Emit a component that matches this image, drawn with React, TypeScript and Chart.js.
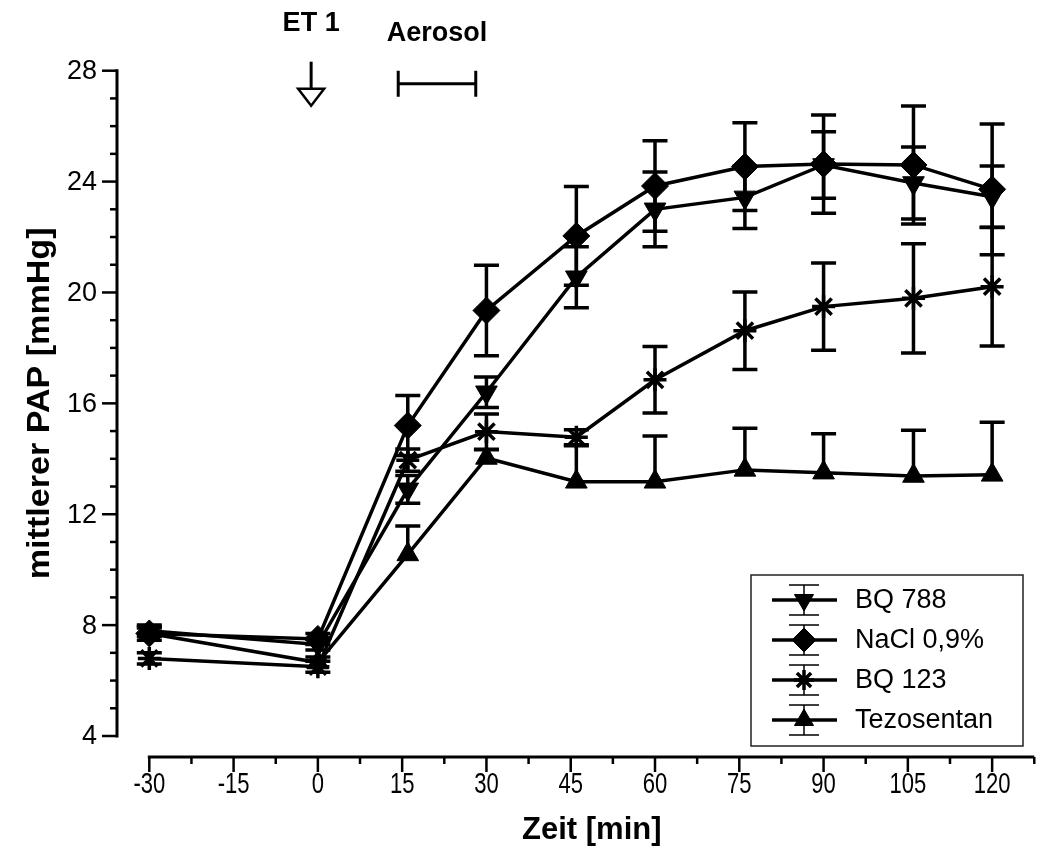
import React, { useEffect, useRef } from "react";
import { Chart, registerables } from "chart.js";
import { drawPoint } from "chart.js/helpers";

Chart.register(...registerables);

// ---- data ----
const times = [-30, 0, 16, 30, 46, 60, 76, 90, 106, 120];

const bq788 = [7.8, 7.3, 12.9, 16.4, 20.55, 23.0, 23.43, 24.6, 23.95, 23.45];
const bq788Err = [0.2, 0.2, 0.5, 0.55, 1.1, 1.35, 1.12, 1.2, 1.3, 1.11];

const nacl = [7.7, 7.5, 15.2, 19.35, 22.04, 23.84, 24.54, 24.63, 24.6, 23.72];
const naclErr = [0.25, 0.2, 1.08, 1.63, 1.78, 1.63, 1.58, 1.77, 2.13, 2.36];

const bq123 = [6.8, 6.5, 13.95, 14.98, 14.78, 16.85, 18.62, 19.49, 19.79, 20.21];
const bq123Err = [0.2, 0.2, 0.4, 0.64, 0.27, 1.2, 1.4, 1.57, 1.97, 2.14];

const tezosentan = [7.7, 6.65, 10.55, 14.03, 13.17, 13.17, 13.6, 13.5, 13.38, 13.42];
const tezosentanErr = [0.2, 0.2, 1.03, 0.3, 1.3, 1.65, 1.5, 1.4, 1.65, 1.9];

const seriesLabels = ["BQ 788", "NaCl 0,9%", "BQ 123", "Tezosentan"];

const xTickLabels = [-30, -15, 0, 15, 30, 45, 60, 75, 90, 105, 120];
const yTickLabels = [4, 8, 12, 16, 20, 24, 28];
const xTitle = "Zeit [min]";
const yTitle = "mittlerer PAP [mmHg]";
const etLabel = "ET 1";
const aerosolLabel = "Aerosol";
const etTime = -1.2;
const aerosolStart = 14.3;
const aerosolEnd = 28.1;

// ---- styles ----
const markerStyles = [
  { pointStyle: "triangle", rotation: 180, radius: 12.5, borderWidth: 1 },
  { pointStyle: "rectRot", rotation: 0, radius: 13.5, borderWidth: 1 },
  { pointStyle: "star", rotation: 0, radius: 11.5, borderWidth: 3.5 },
  { pointStyle: "triangle", rotation: 0, radius: 12.5, borderWidth: 1 },
];
const errors = [bq788Err, naclErr, bq123Err, tezosentanErr];
const lowerShown = [true, true, true, false];
const seriesValues = [bq788, nacl, bq123, tezosentan];

function condensed(ctx: CanvasRenderingContext2D, text: string, x: number, y: number, sx: number) {
  ctx.save();
  ctx.translate(x, y);
  ctx.scale(sx, 1);
  ctx.fillText(text, 0, 0);
  ctx.restore();
}

const overlay = {
  id: "overlay",
  beforeDatasetsDraw(chart: any) {
    const ctx: CanvasRenderingContext2D = chart.ctx;
    const xs = chart.scales.x;
    const ys = chart.scales.y;
    ctx.save();
    ctx.strokeStyle = "#000";
    ctx.lineWidth = 3.5;
    ctx.lineCap = "butt";
    seriesValues.forEach((vals, si) => {
      vals.forEach((v, i) => {
        const e = errors[si][i];
        const x = xs.getPixelForValue(times[i]);
        const yt = ys.getPixelForValue(v + e);
        const yb = lowerShown[si] ? ys.getPixelForValue(v - e) : ys.getPixelForValue(v);
        ctx.beginPath();
        ctx.moveTo(x, yt);
        ctx.lineTo(x, yb);
        ctx.moveTo(x - 12.5, yt);
        ctx.lineTo(x + 12.5, yt);
        if (lowerShown[si]) {
          ctx.moveTo(x - 12.5, yb);
          ctx.lineTo(x + 12.5, yb);
        }
        ctx.stroke();
      });
    });
    ctx.restore();
  },
  afterDraw(chart: any) {
    const ctx: CanvasRenderingContext2D = chart.ctx;
    const xs = chart.scales.x;
    const ys = chart.scales.y;
    const area = chart.chartArea;
    ctx.save();
    ctx.strokeStyle = "#000";
    ctx.fillStyle = "#000";

    // Y axis
    const ax = area.left;
    const yTop = ys.getPixelForValue(28);
    const yBot = ys.getPixelForValue(4);
    ctx.lineWidth = 3;
    ctx.beginPath();
    ctx.moveTo(ax, yTop - 1.5);
    ctx.lineTo(ax, yBot + 1.5);
    ctx.stroke();
    ctx.lineWidth = 2.5;
    for (let v = 4; v <= 28; v += 1) {
      const y = ys.getPixelForValue(v);
      const len = v % 4 === 0 ? 15 : 7;
      ctx.beginPath();
      ctx.moveTo(ax, y);
      ctx.lineTo(ax - len, y);
      ctx.stroke();
    }
    ctx.font = "27px 'Liberation Sans', Arial, sans-serif";
    ctx.textAlign = "right";
    ctx.textBaseline = "middle";
    yTickLabels.forEach((v) => {
      ctx.fillText(String(v), ax - 20, ys.getPixelForValue(v) + 1);
    });

    // X axis
    const axisY = yBot + 21;
    const xStart = xs.getPixelForValue(-30);
    const xEnd = xs.getPixelForValue(127.5);
    ctx.lineWidth = 3;
    ctx.beginPath();
    ctx.moveTo(xStart - 1.5, axisY);
    ctx.lineTo(xEnd, axisY);
    ctx.stroke();
    ctx.lineWidth = 2.5;
    for (let t = -30; t <= 127.5; t += 7.5) {
      const x = xs.getPixelForValue(t);
      const len = t % 15 === 0 ? 15 : 7;
      ctx.beginPath();
      ctx.moveTo(x, axisY);
      ctx.lineTo(x, axisY + len);
      ctx.stroke();
    }
    ctx.font = "29px 'Liberation Sans', Arial, sans-serif";
    ctx.textAlign = "center";
    ctx.textBaseline = "middle";
    xTickLabels.forEach((t) => {
      condensed(ctx, String(t), xs.getPixelForValue(t), axisY + 28, 0.76);
    });

    // Titles
    ctx.font = "bold 31px 'Liberation Sans', Arial, sans-serif";
    ctx.textAlign = "center";
    ctx.textBaseline = "middle";
    ctx.fillText(xTitle, (xStart + xEnd) / 2, axisY + 73);
    ctx.save();
    ctx.translate(40, (yTop + yBot) / 2);
    ctx.rotate(-Math.PI / 2);
    ctx.scale(1.1, 1);
    ctx.font = "bold 31px 'Liberation Sans', Arial, sans-serif";
    ctx.fillText(yTitle, 0, 0);
    ctx.restore();

    // Annotations
    const ex = xs.getPixelForValue(etTime);
    ctx.font = "bold 27px 'Liberation Sans', Arial, sans-serif";
    ctx.textAlign = "center";
    ctx.fillText(etLabel, ex, area.top - 47);
    ctx.lineWidth = 3;
    ctx.beginPath();
    ctx.moveTo(ex, area.top - 9);
    ctx.lineTo(ex, area.top + 18);
    ctx.stroke();
    ctx.lineWidth = 2.5;
    ctx.beginPath();
    ctx.moveTo(ex - 13, area.top + 18);
    ctx.lineTo(ex + 13, area.top + 18);
    ctx.lineTo(ex, area.top + 35);
    ctx.closePath();
    ctx.fillStyle = "#fff";
    ctx.fill();
    ctx.stroke();
    ctx.fillStyle = "#000";

    const a0 = xs.getPixelForValue(aerosolStart);
    const a1 = xs.getPixelForValue(aerosolEnd);
    ctx.fillText(aerosolLabel, (a0 + a1) / 2, area.top - 37);
    ctx.lineWidth = 3;
    ctx.beginPath();
    ctx.moveTo(a0, area.top + 13);
    ctx.lineTo(a1, area.top + 13);
    ctx.moveTo(a0, area.top);
    ctx.lineTo(a0, area.top + 26);
    ctx.moveTo(a1, area.top);
    ctx.lineTo(a1, area.top + 26);
    ctx.stroke();

    // Legend
    const lx = 751, ly = 575, lw = 272, lh = 171;
    ctx.fillStyle = "#fff";
    ctx.fillRect(lx, ly, lw, lh);
    ctx.strokeStyle = "#222";
    ctx.lineWidth = 1.5;
    ctx.strokeRect(lx, ly, lw, lh);
    ctx.strokeStyle = "#000";
    seriesLabels.forEach((lab, i) => {
      const cy = ly + 25 + i * 40;
      const cx = 804;
      ctx.lineWidth = 3.5;
      ctx.beginPath();
      ctx.moveTo(772, cy);
      ctx.lineTo(837, cy);
      ctx.stroke();
      ctx.lineWidth = 1.5;
      ctx.beginPath();
      ctx.moveTo(cx, cy - 15);
      ctx.lineTo(cx, cy + 15);
      ctx.moveTo(cx - 15, cy - 15);
      ctx.lineTo(cx + 15, cy - 15);
      ctx.moveTo(cx - 15, cy + 15);
      ctx.lineTo(cx + 15, cy + 15);
      ctx.stroke();
      const m = markerStyles[i];
      ctx.fillStyle = "#000";
      ctx.lineWidth = m.borderWidth;
      drawPoint(ctx, { pointStyle: m.pointStyle as any, rotation: m.rotation, radius: m.radius - 1.5, borderWidth: m.borderWidth }, cx, cy);
      ctx.fillStyle = "#000";
      ctx.font = "27px 'Liberation Sans', Arial, sans-serif";
      ctx.textAlign = "left";
      ctx.textBaseline = "middle";
      ctx.fillText(lab, 855, cy + 1);
    });
    ctx.restore();
  },
};

export default function App() {
  const ref = useRef<HTMLCanvasElement | null>(null);
  useEffect(() => {
    if (!ref.current) return;
    const datasets = seriesValues.map((vals, si) => ({
      label: seriesLabels[si],
      data: times.map((t, i) => ({ x: t, y: vals[i] })),
      borderColor: "#000",
      backgroundColor: "#000",
      borderWidth: 3.5,
      pointStyle: markerStyles[si].pointStyle as any,
      pointRotation: markerStyles[si].rotation,
      pointRadius: markerStyles[si].radius,
      pointBorderWidth: markerStyles[si].borderWidth,
      pointBackgroundColor: "#000",
      pointBorderColor: "#000",
      tension: 0,
      fill: false,
    }));
    const chart = new Chart(ref.current, {
      type: "line",
      data: { datasets },
      options: {
        animation: false,
        responsive: true,
        maintainAspectRatio: false,
        events: [],
        layout: { padding: { left: 117, top: 70.7, right: 9, bottom: 112 } },
        plugins: { legend: { display: false }, tooltip: { enabled: false } },
        scales: {
          x: { type: "linear", min: -35.75, max: 127.45, display: false },
          y: { type: "linear", min: 4, max: 28, display: false },
        },
      },
      plugins: [overlay],
    } as any);
    return () => chart.destroy();
  }, []);
  return (
    <div style={{ position: "fixed", left: 0, top: 0, width: 1049, height: 848, background: "#fff" }}>
      <canvas ref={ref} />
    </div>
  );
}
